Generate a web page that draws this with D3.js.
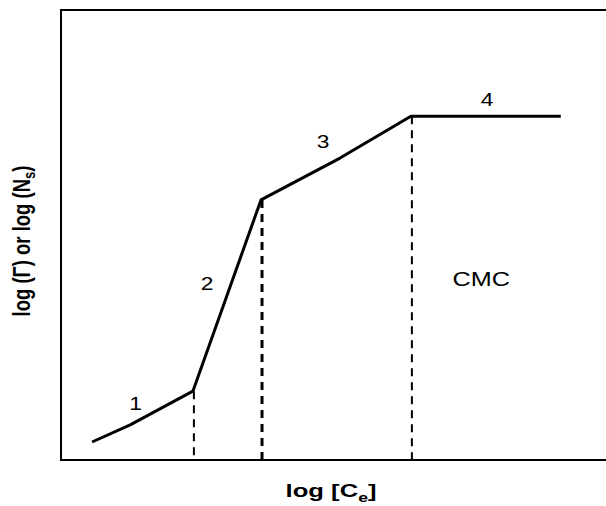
<!DOCTYPE html>
<html><head><meta charset="utf-8">
<script src="https://cdn.jsdelivr.net/npm/d3@7"></script>
<style>body{margin:0;background:#fff}svg{display:block}</style>
</head><body>
<svg id="c" width="606" height="506"></svg>
<script>
// isotherm: log[Ce] (x) vs log(Γ) (y), arbitrary units
const curveX = [0.57, 1.27, 2.42, 3.67, 5.12, 6.42, 9.17];
const curveY = [0.40, 0.78, 1.53, 5.78, 6.71, 7.64, 7.64];
const dividerX = [2.42, 3.67, 6.42];
const dividerTop = [1.53, 5.78, 7.64];
const dividerWidth = [2, 3, 2];
const regionLabels = ["1", "2", "3", "4"];
const regionLabelX = [1.37, 2.68, 4.81, 7.82];
const regionLabelY = [1.22, 3.9, 7.04, 7.98];
const cmcLabel = "CMC";
const cmcX = [7.71];
const cmcY = [4.0];

const svg = d3.select("#c");
const x = d3.scaleLinear().domain([0, 10]).range([61, 606]);
const y = d3.scaleLinear().domain([0, 10]).range([460, 10]);
const FONT = "Liberation Sans, Arial, sans-serif";

// frame (open on right)
svg.append("path")
  .attr("d", `M606,${y(10)}H${x(0)}V${y(0)}H606`)
  .attr("fill", "none").attr("stroke", "#000").attr("stroke-width", 2);

// dashed dividers
dividerX.forEach((d, i) => {
  svg.append("line")
    .attr("x1", x(d) + 1).attr("x2", x(d) + 1)
    .attr("y1", y(dividerTop[i])).attr("y2", y(0))
    .attr("stroke", "#000").attr("stroke-width", dividerWidth[i])
    .attr("stroke-dasharray", "8,6");
});

// curve
const pts = curveX.map((d, i) => [d, curveY[i]]);
svg.append("path")
  .datum(pts)
  .attr("d", d3.line().x(d => x(d[0])).y(d => y(d[1])))
  .attr("fill", "none").attr("stroke", "#000").attr("stroke-width", 3)
  .attr("stroke-linejoin", "round");

// region labels
regionLabels.forEach((t, i) => {
  svg.append("text")
    .attr("transform", `translate(${x(regionLabelX[i])},${y(regionLabelY[i])}) scale(1.2,1)`)
    .attr("text-anchor", "middle").attr("dominant-baseline", "middle")
    .attr("font-family", FONT).attr("font-size", 19)
    .text(t);
});
svg.append("text")
  .attr("transform", `translate(${x(cmcX[0])},${y(cmcY[0])}) scale(1.2,1)`)
  .attr("text-anchor", "middle").attr("dominant-baseline", "middle")
  .attr("font-family", FONT).attr("font-size", 21)
  .text(cmcLabel);

// x axis title
const xt = svg.append("text").attr("transform", "translate(331,497) scale(1.35,1)")
  .attr("text-anchor", "middle")
  .attr("font-family", FONT).attr("font-size", 19).attr("font-weight", "bold");
xt.append("tspan").text("log [C");
xt.append("tspan").attr("font-size", 13).attr("dy", 5).text("e");
xt.append("tspan").attr("dy", -5).text("]");

// y axis title
const yt = svg.append("text").attr("transform", "translate(30,241) rotate(-90) scale(1,1.25)")
  .attr("text-anchor", "middle")
  .attr("font-family", FONT).attr("font-size", 18.5).attr("font-weight", "bold");
yt.append("tspan").text("log (Γ) or log (N");
yt.append("tspan").attr("font-size", 13).attr("dy", 4).text("s");
yt.append("tspan").attr("dy", -4).text(")");
</script>
</body></html>
